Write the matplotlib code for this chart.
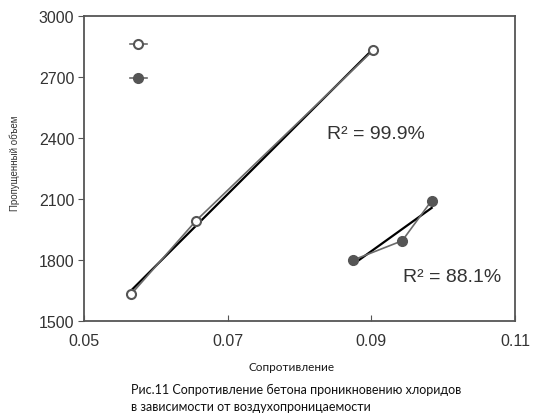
import numpy as np
import matplotlib
matplotlib.use("Agg")
import matplotlib.pyplot as plt
from matplotlib.lines import Line2D

# Data
open_x = [0.0566, 0.0656, 0.0903]
open_y = [1632, 1993, 2834]
fill_x = [0.0874, 0.0943, 0.0984]
fill_y = [1798, 1894, 2092]
r2_labels = ["R² = 99.9%", "R² = 88.1%"]
xticks = [0.05, 0.07, 0.09, 0.11]
xticklabels = ["0.05", "0.07", "0.09", "0.11"]
yticks = [1500, 1800, 2100, 2400, 2700, 3000]
xlabel = "Сопротивление"
ylabel = "Пропущенный объем"
caption = ["Рис.11 Сопротивление бетона проникновению хлоридов",
           "в зависимости от воздухопроницаемости"]

plt.rcParams['font.family'] = ['Liberation Sans', 'DejaVu Sans']

fig = plt.figure(figsize=(5.34, 4.14), dpi=100)
ax = fig.add_axes([84/534, 1-321.7/414, (515-84)/534, (321.7-17.3)/414])

gray = '#6a6a6a'
mk = '#555555'

ax.plot(open_x, open_y, color=gray, lw=1.2, marker='o', ms=6.5,
        mfc='white', mec=mk, mew=1.5, zorder=3)
ax.plot(fill_x, fill_y, color=gray, lw=1.2, marker='o', ms=7,
        mfc=mk, mec=mk, zorder=3)

# linear trend lines
for xs, ys in ((open_x, open_y), (fill_x, fill_y)):
    xs = np.array(xs); ys = np.array(ys)
    k, b = np.polyfit(xs, ys, 1)
    xx = np.array([xs.min(), xs.max()])
    ax.plot(xx, k*xx + b, color='black', lw=1.6, zorder=2)

ax.text(0.0838, 2400, r2_labels[0], fontsize=14, color='#333333')
ax.text(0.0944, 1698, r2_labels[1], fontsize=14, color='#333333')

ax.set_xlim(0.05, 0.11)
ax.set_ylim(1500, 3000)
ax.set_xticks(xticks)
ax.set_xticklabels(xticklabels)
ax.set_yticks(yticks)
ax.tick_params(axis='x', direction='in', length=4, pad=9, labelsize=11.5,
               color='#555555', labelcolor='#333333')
ax.tick_params(axis='y', direction='out', length=4, pad=3, labelsize=11.5,
               color='#555555', labelcolor='#333333')
for s in ax.spines.values():
    s.set_color('#555555')
    s.set_linewidth(1.3)

handles = [Line2D([], [], color=gray, lw=1.2, marker='o', ms=6.5, mfc='white', mec=mk, mew=1.5),
           Line2D([], [], color=gray, lw=1.2, marker='o', ms=7, mfc=mk, mec=mk)]
ax.legend(handles, ['', ''], loc='upper left', bbox_to_anchor=(0.078, 0.97),
          frameon=False, handlelength=1.2, labelspacing=1.4, handletextpad=0)

fig.text(15/534, 1-163/414, ylabel, rotation=90, ha='center', va='center',
         fontsize=7, color='#333333')
fig.text(292/534, 1-368/414, xlabel, ha='center', va='center',
         fontsize=8.5, family=['Lato', 'DejaVu Sans'], color='#1a1a1a')
fig.text(131/534, 1-394/414, caption[0], ha='left', va='baseline',
         fontsize=9, family=['Lato', 'DejaVu Sans'], color='#111111')
fig.text(131/534, 1-411/414, caption[1], ha='left', va='baseline',
         fontsize=9, family=['Lato', 'DejaVu Sans'], color='#111111')

fig.savefig('out.png', dpi=100)
